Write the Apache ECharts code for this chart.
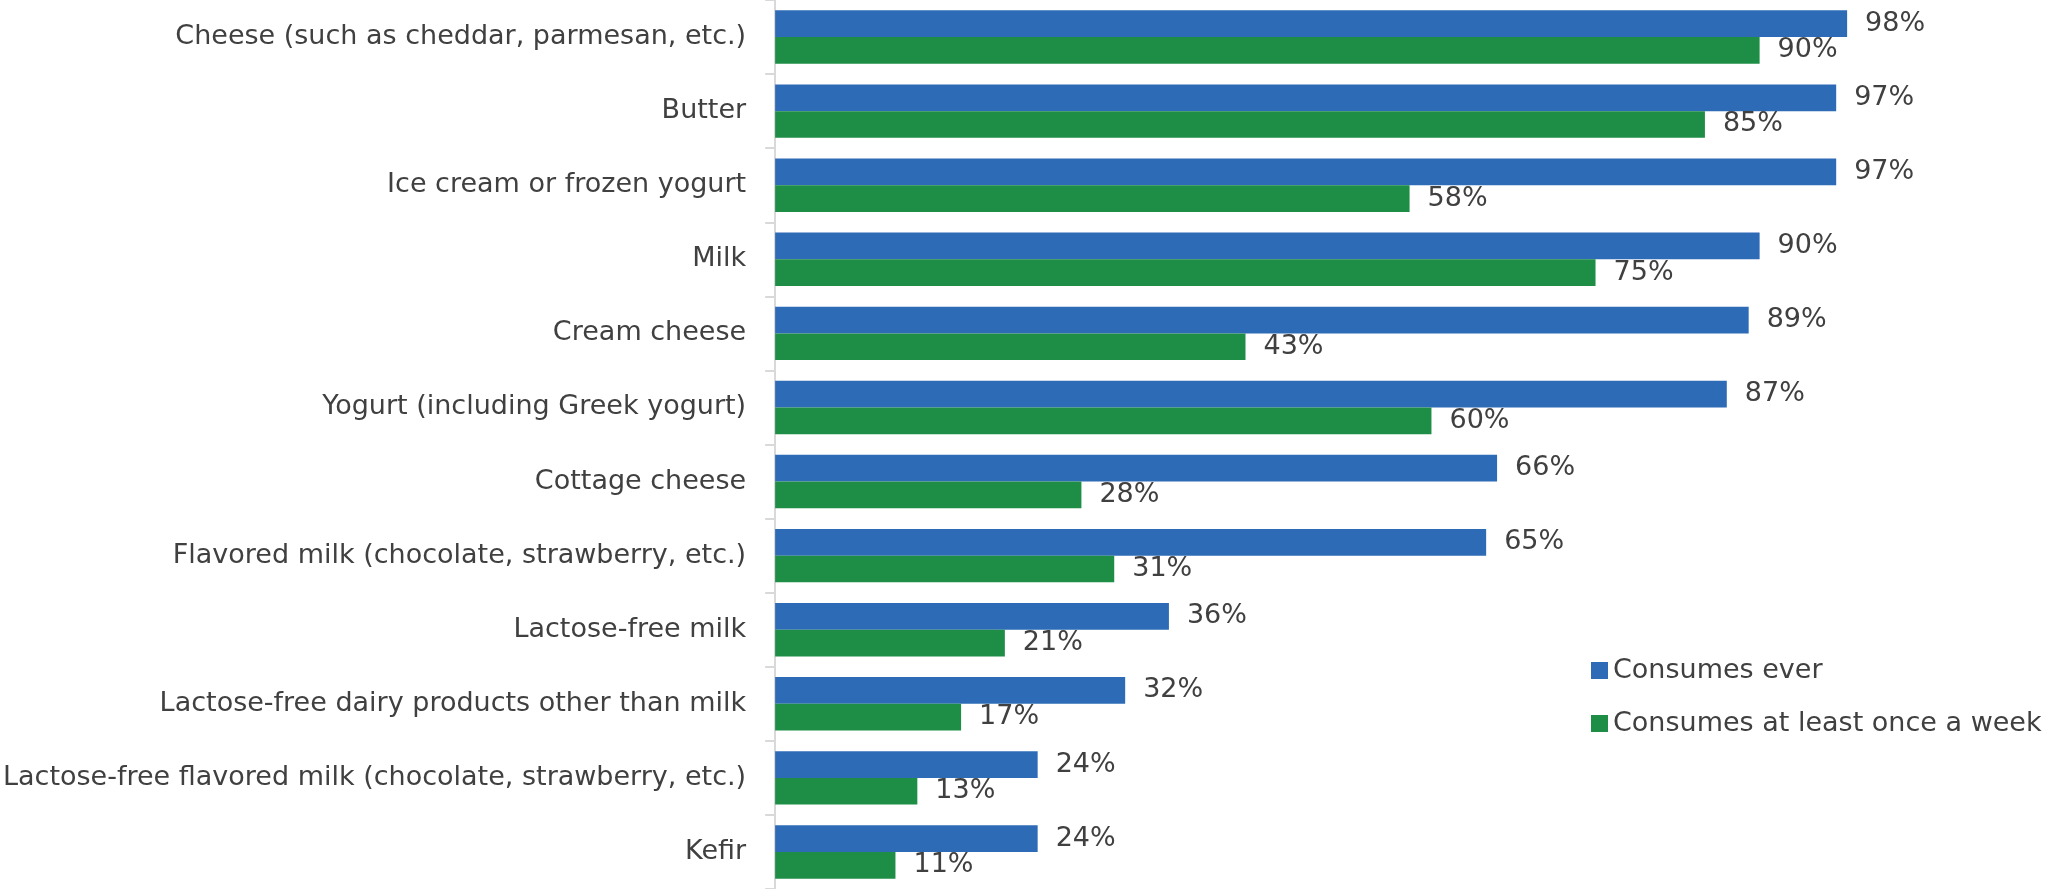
<!DOCTYPE html>
<html>
<head>
<meta charset="utf-8">
<script src="https://cdn.jsdelivr.net/npm/echarts@6/dist/echarts.min.js"></script>
<style>
  html, body { margin: 0; padding: 0; background: #fff; }
  #main { width: 2048px; height: 889px; }
</style>
</head>
<body>
<div id="main"></div>
<script>
const categories = [
  'Cheese (such as cheddar, parmesan, etc.)',
  'Butter',
  'Ice cream or frozen yogurt',
  'Milk',
  'Cream cheese',
  'Yogurt (including Greek yogurt)',
  'Cottage cheese',
  'Flavored milk (chocolate, strawberry, etc.)',
  'Lactose-free milk',
  'Lactose-free dairy products other than milk',
  'Lactose-free flavored milk (chocolate, strawberry, etc.)',
  'Kefir'
];
const consumesEver = [98, 97, 97, 90, 89, 87, 66, 65, 36, 32, 24, 24];
const consumesWeekly = [90, 85, 58, 75, 43, 60, 28, 31, 21, 17, 13, 11];

const textColor = '#404040';
const fontFamily = 'DejaVu Sans, sans-serif';

const labelStyle = {
  show: true,
  position: 'right',
  distance: 18,
  formatter: '{c}%',
  color: textColor,
  fontSize: 27,
  fontFamily: fontFamily
};

const options = {
  color: ['#2E6BB7', '#1E8E46'],
  animation: false,
  legend: {
    orient: 'vertical',
    left: 1586,
    top: 652,
    itemWidth: 17,
    itemHeight: 17,
    itemGap: 26,
    icon: 'rect',
    textStyle: { color: textColor, fontSize: 27, fontFamily: fontFamily }
  },
  grid: {
    left: 772,
    right: 179,
    top: 0,
    bottom: -6,
    containLabel: false
  },
  xAxis: {
    type: 'value',
    min: 0,
    max: 100,
    show: false
  },
  yAxis: {
    type: 'category',
    inverse: true,
    data: categories,
    axisLine: { show: true, lineStyle: { color: '#d9d9d9', width: 2 } },
    axisTick: { show: true, length: 10, lineStyle: { color: '#d9d9d9', width: 2 } },
    axisLabel: {
      margin: 29,
      color: textColor,
      fontSize: 27,
      fontFamily: fontFamily
    }
  },
  series: [
    {
      name: 'Consumes ever',
      type: 'bar',
      barGap: '0%',
      barCategoryGap: '28%',
      label: labelStyle,
      data: consumesEver
    },
    {
      name: 'Consumes at least once a week',
      type: 'bar',
      label: labelStyle,
      data: consumesWeekly
    }
  ]
};

var myChart = echarts.init(document.getElementById('main'));
myChart.setOption(options);
</script>
</body>
</html>
